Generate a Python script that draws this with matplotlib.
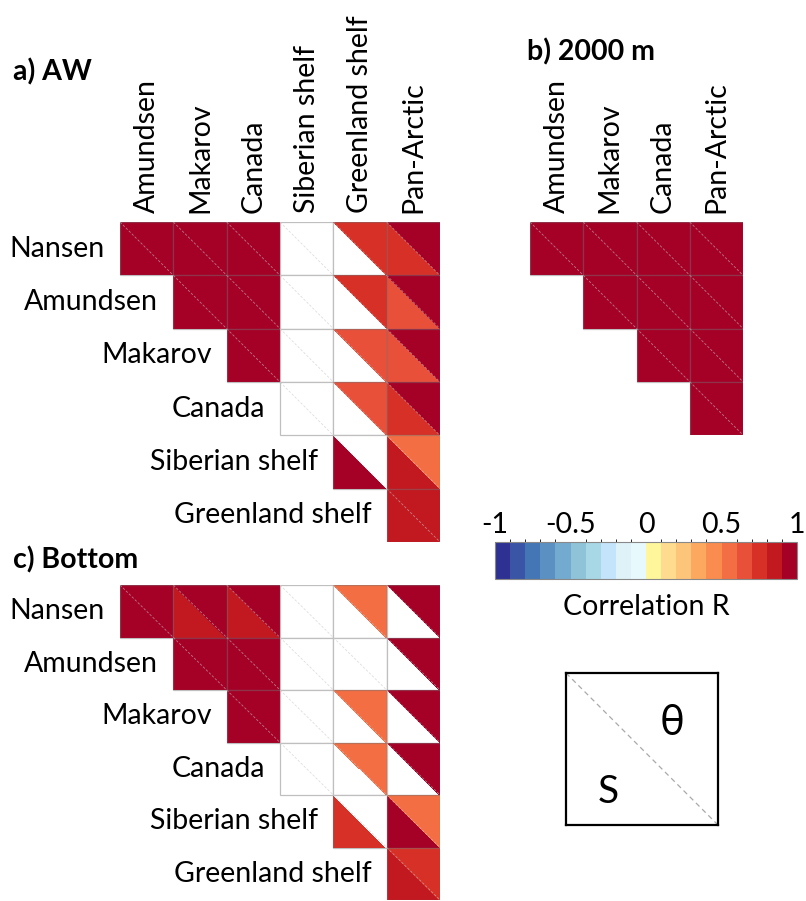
import numpy as np
import matplotlib
matplotlib.use("Agg")
import matplotlib.pyplot as plt
from matplotlib.colors import ListedColormap, BoundaryNorm
from matplotlib.patches import Polygon
from matplotlib.cm import ScalarMappable

plt.rcParams["font.family"] = ["Lato", "DejaVu Sans"]
FS = 20.5

nan = np.nan

# basins
rows6 = ["Nansen", "Amundsen", "Makarov", "Canada", "Siberian shelf", "Greenland shelf"]
cols6 = ["Amundsen", "Makarov", "Canada", "Siberian shelf", "Greenland shelf", "Pan-Arctic"]
rows4 = ["Nansen", "Amundsen", "Makarov", "Canada"]
cols4 = ["Amundsen", "Makarov", "Canada", "Pan-Arctic"]

# correlation R, upper triangle only (col >= row); nan = not significant
aw_S = [
    [0.95, 0.95, 0.95, nan, nan, 0.75],
    [nan, 0.95, 0.95, nan, nan, 0.65],
    [nan, nan, 0.95, nan, nan, 0.65],
    [nan, nan, nan, nan, nan, 0.75],
    [nan, nan, nan, nan, 0.95, 0.85],
    [nan, nan, nan, nan, nan, 0.85],
]
aw_T = [
    [0.95, 0.95, 0.95, nan, 0.75, 0.95],
    [nan, 0.95, 0.95, nan, 0.75, 0.95],
    [nan, nan, 0.95, nan, 0.65, 0.95],
    [nan, nan, nan, nan, 0.65, 0.95],
    [nan, nan, nan, nan, nan, 0.55],
    [nan, nan, nan, nan, nan, 0.85],
]
d2000_S = [
    [0.95, 0.95, 0.95, 0.95],
    [nan, 0.95, 0.95, 0.95],
    [nan, nan, 0.95, 0.95],
    [nan, nan, nan, 0.95],
]
d2000_T = [
    [0.95, 0.95, 0.95, 0.95],
    [nan, 0.95, 0.95, 0.95],
    [nan, nan, 0.95, 0.95],
    [nan, nan, nan, 0.95],
]
bot_S = [
    [0.95, 0.85, 0.85, nan, nan, nan],
    [nan, 0.95, 0.95, nan, nan, nan],
    [nan, nan, 0.95, nan, nan, nan],
    [nan, nan, nan, nan, nan, nan],
    [nan, nan, nan, nan, 0.75, 0.95],
    [nan, nan, nan, nan, nan, 0.85],
]
bot_T = [
    [0.95, 0.95, 0.95, nan, 0.55, 0.95],
    [nan, 0.95, 0.95, nan, nan, 0.95],
    [nan, nan, 0.95, nan, 0.55, 0.95],
    [nan, nan, nan, nan, 0.55, 0.95],
    [nan, nan, nan, nan, nan, 0.55],
    [nan, nan, nan, nan, nan, 0.75],
]

cbar_colors = [
    "#2e3192", "#3a55a5", "#4475b4", "#5b90c2", "#73abd0",
    "#8fc4d8", "#a8d8e6", "#c4e4fb", "#def2f8", "#e8f9fe",
    "#fff59a", "#fedb8f", "#fdc57a", "#fca85f", "#f98c4e",
    "#f46e43", "#e8503a", "#d73027", "#c21820", "#a50026",
]
cmap = ListedColormap(cbar_colors)
norm = BoundaryNorm(np.linspace(-1, 1, 21), cmap.N)

W, H = 806, 901
fig = plt.figure(figsize=(W / 100, H / 100), dpi=100)


def px_axes(x0, y0, x1, y1):
    return fig.add_axes([x0 / W, 1 - y1 / H, (x1 - x0) / W, (y1 - y0) / H])


def fill(v):
    return "white" if np.isnan(v) else cmap(norm(v))


def tri_matrix(ax, S, T, rlabels=None, clabels=None):
    S = np.array(S, dtype=float)
    T = np.array(T, dtype=float)
    nr, nc = S.shape
    for i in range(nr):
        for j in range(i, nc):
            lower = [(j, i), (j, i + 1), (j + 1, i + 1)]
            upper = [(j, i), (j + 1, i), (j + 1, i + 1)]
            ax.add_patch(Polygon(lower, closed=True, facecolor=fill(S[i, j]),
                                 edgecolor="none", antialiased=False))
            ax.add_patch(Polygon(upper, closed=True, facecolor=fill(T[i, j]),
                                 edgecolor="none", antialiased=False))
            ax.plot([j, j + 1], [i, i + 1], color="#c8c8c8", lw=0.6,
                    ls=(0, (3, 2)), alpha=0.6)
            ax.add_patch(plt.Rectangle((j, i), 1, 1, fill=False,
                                       edgecolor=(0.45, 0.45, 0.45, 0.45), lw=0.9))
    ax.set_xlim(0, nc)
    ax.set_ylim(nr, 0)
    ax.set_axis_off()
    if rlabels is not None:
        for i, lab in enumerate(rlabels):
            ax.text(i - 0.28, i + 0.5, lab, ha="right", va="center", fontsize=FS)
    if clabels is not None:
        for j, lab in enumerate(clabels):
            ax.text(j + 0.5, -0.17, lab, ha="center", va="bottom",
                    rotation=90, fontsize=FS)


ax_a = px_axes(120, 222, 440, 542)
tri_matrix(ax_a, aw_S, aw_T, rows6, cols6)

ax_b = px_axes(530, 222, 743, 435)
tri_matrix(ax_b, d2000_S, d2000_T, None, cols4)

ax_c = px_axes(120, 585, 440, 900)
tri_matrix(ax_c, bot_S, bot_T, rows6, None)

fig.text(13 / W, 1 - 72 / H, "a) AW", ha="left", va="center",
         fontsize=FS, fontweight="bold")
fig.text(527 / W, 1 - 52 / H, "b) 2000 m", ha="left", va="center",
         fontsize=FS, fontweight="bold")
fig.text(13 / W, 1 - 560 / H, "c) Bottom", ha="left", va="center",
         fontsize=FS, fontweight="bold")

# colorbar
cax = px_axes(495, 542, 797, 579)
sm = ScalarMappable(norm=norm, cmap=cmap)
cb = fig.colorbar(sm, cax=cax, orientation="horizontal",
                  ticks=[-1, -0.5, 0, 0.5, 1])
cax.xaxis.set_ticks_position("top")
cax.set_xticklabels(["-1", "-0.5", "0", "0.5", "1"])
cax.tick_params(axis="x", length=0, pad=3, labelsize=FS)
cb.outline.set_edgecolor("#888888")
cb.outline.set_linewidth(0.8)
fig.text(646 / W, 1 - 607 / H, "Correlation R", ha="center", va="center",
         fontsize=FS)

# key: salinity lower-left, temperature upper-right
lax = px_axes(566, 673, 718, 825)
lax.set_xlim(0, 1)
lax.set_ylim(0, 1)
lax.plot([0, 1], [1, 0], color="#aaaaaa", lw=0.9, ls=(0, (4, 3)))
lax.text(0.70, 0.67, "θ", ha="center", va="center", fontsize=30)
lax.text(0.28, 0.22, "S", ha="center", va="center", fontsize=28)
lax.set_xticks([])
lax.set_yticks([])
for sp in lax.spines.values():
    sp.set_linewidth(1.6)
    sp.set_color("black")

fig.savefig("out.png", dpi=100)
